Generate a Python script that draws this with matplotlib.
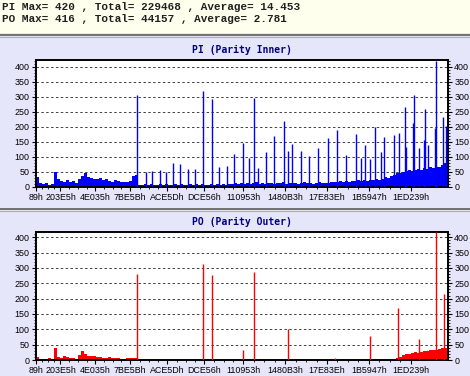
import numpy as np
import matplotlib.pyplot as plt
from matplotlib.lines import Line2D
from matplotlib.patches import Rectangle
from matplotlib.ticker import MultipleLocator, FixedLocator

# --- data ---
header_lines = ["PI Max= 420 , Total= 229468 , Average= 14.453",
                "PO Max= 416 , Total= 44157 , Average= 2.781"]

tick_labels = ["89h", "203E5h", "4E035h", "7BE5Bh", "ACE5Dh", "DCE56h",
               "110953h", "1480B3h", "17E83Eh", "1B5947h", "1ED239h"]
x_start = 0x89
x_end = 2219200
bin_width = 16159  # sectors per bar of the background noise

pi_base = [33, 12, 10, 14, 8, 11, 50, 25, 20, 18, 22, 15, 20, 12, 28, 35, 45, 32, 30,
           28, 25, 30, 22, 25, 20, 18, 24, 20, 15, 18, 16, 20, 35, 40,
           8, 6, 9, 7, 10, 6, 8, 11, 7, 9, 6, 8, 10, 7, 9, 8, 6, 10, 7, 9, 8, 11, 7, 8,
           10, 6, 9, 8, 10, 7, 9,
           10, 12, 9, 13, 11, 14, 10, 12, 15, 11, 13, 10, 12, 14, 11, 13, 12, 15, 10, 13,
           12, 14, 11, 13, 15, 12, 14, 11, 13, 15, 12, 14, 13,
           15, 17, 16, 19, 18, 20, 17, 21, 19, 22, 20, 23, 21, 24, 22, 25, 24,
           28, 32, 30, 36, 40, 45, 48,
           50, 52, 55, 53, 58, 60, 57, 62, 60, 65, 63, 68, 66, 72, 80]

po_base = ([10, 3, 2, 4, 5, 2, 40, 10, 8, 12, 9, 7, 8, 4, 15, 28, 18, 14, 12, 12, 10, 9,
            8, 7, 9, 6, 5, 7, 3, 2, 5, 6, 5, 6]
           + [0] * 85
           + [2, 6, 10, 15, 20, 18, 22, 25, 24, 27, 28, 30, 32, 33, 34, 36, 38, 40])

pi_spike_pos = [542400, 590900, 626400, 666300, 701800, 739500, 777200, 817100, 858000,
                899500, 948000, 984000, 1028700, 1068100, 1113300, 1148900, 1172600,
                1194100, 1240500, 1283500, 1334100, 1358900, 1378800, 1427300, 1470400,
                1520500, 1571100, 1619600, 1669700, 1722000, 1750500, 1773700, 1800600,
                1827500, 1856600, 1874400, 1929900, 1953600, 1985900, 1991300, 2032200,
                2036000, 2064500, 2091500, 2096800, 2113000, 2149100, 2154500, 2193800,
                2208300]
pi_spike_val = [305, 50, 52, 55, 50, 80, 78, 61, 60,
                318, 292, 66, 69, 109, 145, 97, 295,
                63, 115, 170, 219, 119, 142, 119, 103,
                128, 163, 189, 105, 177, 97, 139, 92,
                200, 117, 167, 172, 180, 267, 132, 212,
                306, 128, 155, 259, 139, 195, 420, 233,
                203]

po_spike_pos = [542400, 899500, 948000, 1113300, 1172600, 1358900, 1610500, 1800600,
                1951400, 2064500, 2156000, 2196000]
po_spike_val = [280, 313, 277, 33, 288, 100, 5, 79, 168, 68, 416, 216]

BG = '#E6E6FA'
HEAD_BG = '#FFFFEE'
W, H = 470, 376

fig = plt.figure(figsize=(W / 100, H / 100), dpi=100, facecolor=BG)

# header strip
fig.patches.append(Rectangle((0, 1 - 33 / H), 1, 33 / H, transform=fig.transFigure,
                             facecolor=HEAD_BG, edgecolor='none', zorder=0))
for i, line in enumerate(header_lines):
    fig.text(2 / W, 1 - (7 + 12 * i) / H, line, family='Liberation Mono',
             fontweight='bold', fontsize=7.9, color='#202020', va='center', ha='left')


def separator(y):
    fig.add_artist(Line2D([0, 1], [1 - y / H] * 2, color='#707070', lw=1.4,
                          transform=fig.transFigure))
    fig.add_artist(Line2D([0, 1], [1 - (y + 2.5) / H] * 2, color='#B0B0B0', lw=0.9,
                          transform=fig.transFigure))


separator(34.5)
separator(208.5)


def panel(top_px, bottom_px, base, spos, sval, color, ytop, title):
    left, right = 36, 448
    ax = fig.add_axes([left / W, 1 - bottom_px / H, (right - left) / W,
                       (bottom_px - top_px) / H])
    ax.set_facecolor('white')
    xs = x_start + bin_width * (np.arange(len(base)) + 0.5)
    ax.bar(xs, base, width=bin_width, color=color, linewidth=0, zorder=2)
    ax.vlines(spos, 0, sval, color=color, lw=1.0, zorder=3)

    ax.set_xlim(x_start, x_end)
    ax.set_ylim(0, ytop)
    ticks = [int(t[:-1], 16) for t in tick_labels]
    ax.xaxis.set_major_locator(FixedLocator(ticks))
    ax.set_xticklabels(tick_labels)
    minor = []
    for a, b in zip(ticks[:-1], ticks[1:]):
        minor += list(np.linspace(a, b, 5)[1:-1])
    ax.xaxis.set_minor_locator(FixedLocator(minor))
    ax.yaxis.set_major_locator(MultipleLocator(50))
    ax.yaxis.set_minor_locator(MultipleLocator(10))
    ax.tick_params(axis='both', which='major', labelsize=6.4, length=3, width=0.8,
                   pad=1.5, colors='black')
    ax.tick_params(axis='both', which='minor', length=1.5, width=0.6)
    ax.tick_params(axis='y', which='both', left=True, right=True,
                   labelleft=True, labelright=True)
    for lab in ax.get_xticklabels() + ax.get_yticklabels() + \
            ax.yaxis.get_ticklabels(which='major'):
        lab.set_family('Liberation Sans')
    for lab in ax.yaxis.get_majorticklabels():
        lab.set_family('Liberation Sans')
    for v in range(50, 401, 50):
        ax.axhline(v, color='#404040', lw=0.7, ls=(0, (2.5, 2.5)), zorder=1)
    for s in ax.spines.values():
        s.set_linewidth(1.4)
        s.set_color('black')
    fig.text(242 / W, 1 - (top_px - 10) / H, title, family='DejaVu Sans Mono',
             fontweight='bold', fontsize=7.0, color='#000080', ha='center', va='center')
    return ax


panel(60, 187, pi_base, pi_spike_pos, pi_spike_val, '#0000FF', 422, 'PI (Parity Inner)')
panel(232, 360, po_base, po_spike_pos, po_spike_val, '#FF0000', 417, 'PO (Parity Outer)')

fig.savefig('out.png', dpi=100, facecolor=BG)
